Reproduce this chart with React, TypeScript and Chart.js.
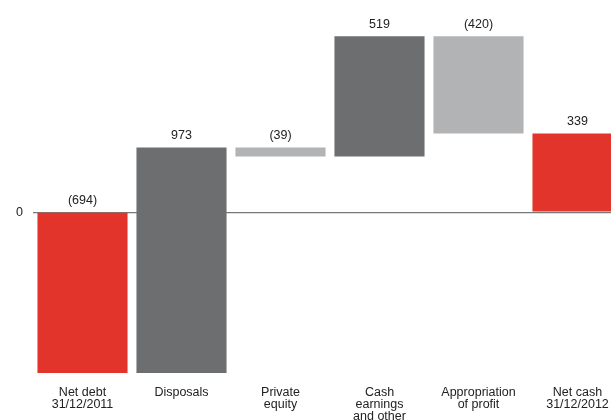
import React, { useEffect, useRef } from "react";
import { Chart, registerables } from "chart.js";

Chart.register(...registerables);

const categories: string[][] = [
  ["Net debt", "31/12/2011"],
  ["Disposals"],
  ["Private", "equity"],
  ["Cash", "earnings", "and other"],
  ["Appropriation", "of profit"],
  ["Net cash", "31/12/2012"],
];
const values: number[] = [-694, 973, -39, 519, -420, 339];
const kinds: string[] = ["total", "delta", "delta", "delta", "delta", "total"];
const yMin = -694;
const yMax = 840;

const RED = "rgb(227,52,43)";
const DARK = "rgb(109,110,112)";
const LIGHT = "rgb(178,179,181)";

function buildRanges(): [number, number][] {
  const out: [number, number][] = [];
  let run = 0;
  values.forEach((v, i) => {
    if (kinds[i] === "total") {
      out.push([0, v]);
      run = v;
    } else {
      out.push([run, run + v]);
      run += v;
    }
  });
  return out;
}

function fmt(v: number): string {
  return v < 0 ? `(${Math.abs(v)})` : `${v}`;
}

const FONT = "Liberation Sans, Arial, Helvetica, sans-serif";

export default function App() {
  const ref = useRef<HTMLCanvasElement | null>(null);
  useEffect(() => {
    if (!ref.current) return;
    const ranges = buildRanges();
    const colors = values.map((v, i) =>
      kinds[i] === "total" ? RED : v >= 0 ? DARK : LIGHT
    );
    const labelPlugin = {
      id: "valueLabels",
      afterDatasetsDraw(chart: any) {
        const ctx = chart.ctx;
        const meta = chart.getDatasetMeta(0);
        ctx.save();
        ctx.font = `12.5px ${FONT}`;
        ctx.fillStyle = "#222";
        ctx.textAlign = "center";
        ctx.textBaseline = "middle";
        meta.data.forEach((el: any, i: number) => {
          const top = Math.min(el.y, el.base);
          ctx.fillText(fmt(values[i]), el.x, top - 12);
        });
        ctx.restore();
      },
    };
    const chart = new Chart(ref.current, {
      type: "bar",
      data: {
        labels: categories,
        datasets: [
          {
            data: ranges as any,
            backgroundColor: colors,
            borderWidth: 0,
            barPercentage: 0.91,
            categoryPercentage: 1,
          },
        ],
      },
      options: {
        animation: false,
        responsive: false,
        layout: { padding: 0 },
        plugins: {
          legend: { display: false },
          tooltip: { enabled: false },
        },
        scales: {
          x: {
            grid: { display: false, drawTicks: false },
            border: { display: false },
            ticks: {
              padding: 13,
              color: "#222",
              font: { family: FONT, size: 12.5, lineHeight: 0.98 },
              maxRotation: 0,
              autoSkip: false,
            },
            afterFit(scale: any) {
              scale.height = 47;
            },
          },
          y: {
            min: yMin,
            max: yMax,
            grid: {
              drawTicks: false,
              color: "rgb(120,120,120)",
              lineWidth: 1.3,
            },
            border: { display: false },
            afterBuildTicks(scale: any) {
              scale.ticks = [{ value: 0 }];
            },
            ticks: {
              padding: 10,
              color: "#222",
              font: { family: FONT, size: 12.5 },
              callback: () => "0",
            },
            afterFit(scale: any) {
              scale.width = 33;
            },
          },
        },
      },
      plugins: [labelPlugin],
    });
    return () => chart.destroy();
  }, []);
  return (
    <div
      style={{
        position: "absolute",
        left: 0,
        top: 0,
        width: 611,
        height: 420,
        overflow: "hidden",
        background: "#fff",
      }}
    >
      <canvas ref={ref} width={627} height={420} style={{ display: "block" }} />
    </div>
  );
}
